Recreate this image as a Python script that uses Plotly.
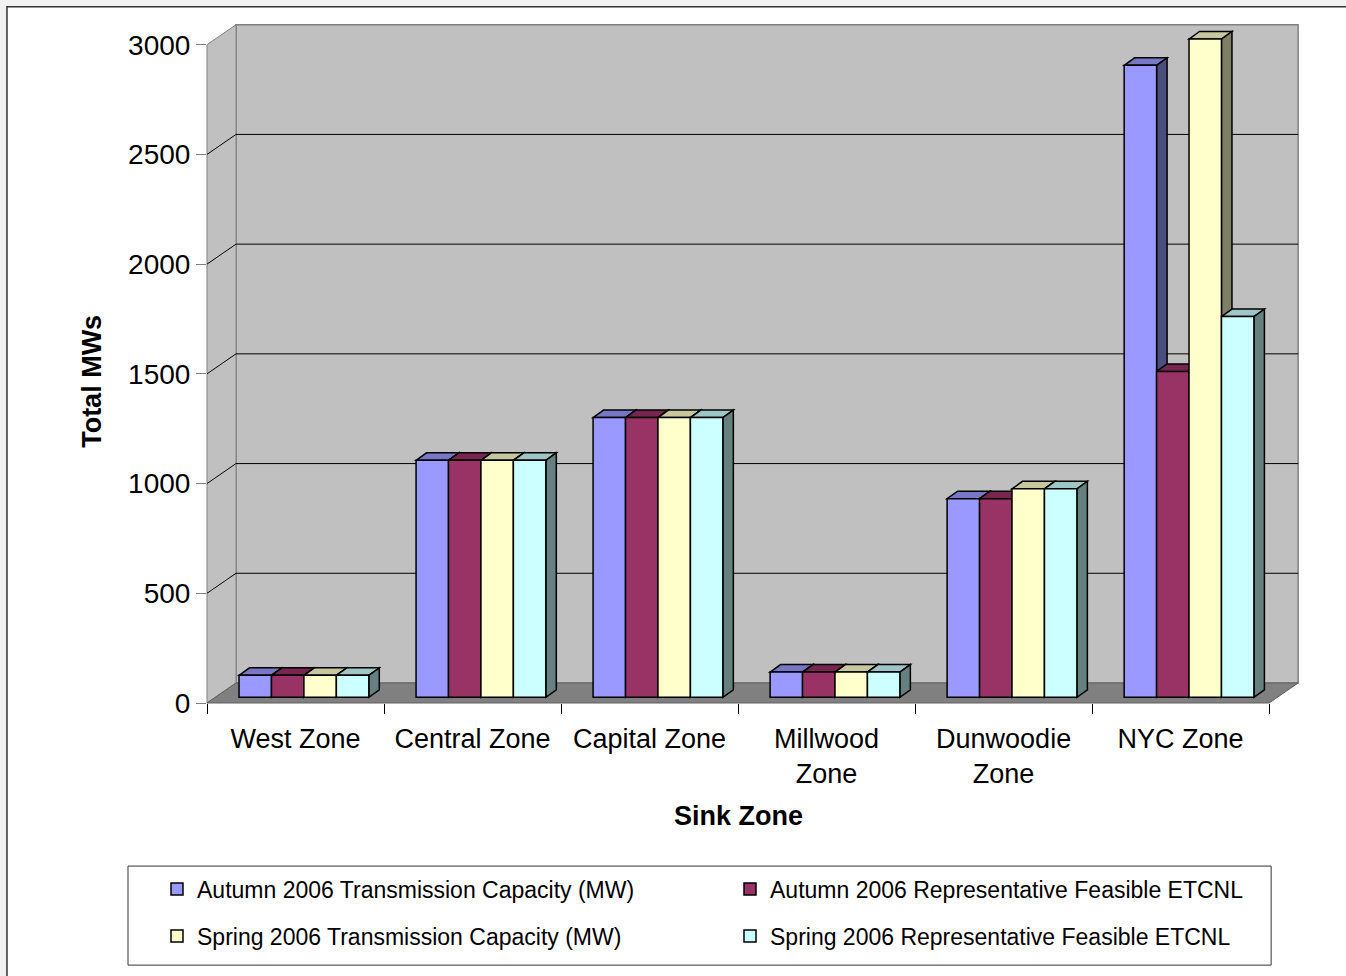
import plotly.graph_objects as go

# ---- data -------------------------------------------------------------
zones = ["West Zone", "Central Zone", "Capital Zone",
         "Millwood<br>Zone", "Dunwoodie<br>Zone", "NYC Zone"]
autumn_tc = [100, 1080, 1275, 115, 905, 2880]
autumn_etcnl = [100, 1080, 1275, 115, 905, 1485]
spring_tc = [100, 1080, 1275, 115, 950, 3000]
spring_etcnl = [100, 1080, 1275, 115, 950, 1735]
series_names = ["Autumn 2006 Transmission Capacity (MW)",
                "Autumn 2006 Representative Feasible ETCNL",
                "Spring 2006 Transmission Capacity (MW)",
                "Spring 2006 Representative Feasible ETCNL"]
series_values = [autumn_tc, autumn_etcnl, spring_tc, spring_etcnl]
series_colors = ["#9999FF", "#993366", "#FFFFCC", "#CCFFFF"]
y_ticks = [0, 500, 1000, 1500, 2000, 2500, 3000]

# ---- geometry of the pseudo-3D frame -------------------------------------
FIG_W, FIG_H = 1346, 976
FONT = "Liberation Sans, Arial, sans-serif"
CAT_PX = 177.0            # pixels per category on the front plane
MW_PX = 658.0 / 3000.0    # pixels per MW
LEFT_PX, BOTTOM_PX = 207, 703
X_RANGE = (-0.5, 5.68)
Y_RANGE = (0.0, 3140.0)
plot_w = (X_RANGE[1] - X_RANGE[0]) * CAT_PX
plot_h = (Y_RANGE[1] - Y_RANGE[0]) * MW_PX

WALL_DX = 29 / CAT_PX     # depth of the floor / walls
WALL_DY = 20 / MW_PX
BAR_DX = 8.4 / CAT_PX     # bars sit part way into the depth
BAR_DY = 5.7 / MW_PX
FACE_DX = 10.5 / CAT_PX   # depth of each bar
FACE_DY = 7.5 / MW_PX
GROUP_W = 0.733
BAR_W = GROUP_W / len(series_values)
N = len(zones)


def xp(v):
    return (v - X_RANGE[0]) / (X_RANGE[1] - X_RANGE[0])


def yp(v):
    return (v - Y_RANGE[0]) / (Y_RANGE[1] - Y_RANGE[0])


def px_x(px):
    return (px - LEFT_PX) / plot_w


def px_y(py):
    return (BOTTOM_PX - py) / plot_h


def shade(hex_color, f):
    h = hex_color.lstrip("#")
    r, g, b = (int(h[i:i + 2], 16) for i in (0, 2, 4))
    return "#%02x%02x%02x" % (int(r * f), int(g * f), int(b * f))


def ppath(points):
    return "M" + " L".join(f"{x},{y}" for x, y in points) + " Z"


shapes = []
# chart area
shapes.append(dict(type="rect", xref="paper", yref="paper", layer="below",
                   x0=px_x(7), x1=px_x(FIG_W + 20), y0=px_y(FIG_H + 20), y1=px_y(7),
                   fillcolor="white", line=dict(color="#333333", width=1.5)))

x_front_l, x_front_r = -0.5, N - 0.5
y_top = y_ticks[-1]
# back wall
shapes.append(dict(type="path", xref="paper", yref="paper", layer="below",
                   path=ppath([(xp(x_front_l + WALL_DX), yp(WALL_DY)),
                               (xp(x_front_l + WALL_DX), yp(y_top + WALL_DY)),
                               (xp(x_front_r + WALL_DX), yp(y_top + WALL_DY)),
                               (xp(x_front_r + WALL_DX), yp(WALL_DY))]),
                   fillcolor="#C0C0C0", line=dict(color="#808080", width=1.5)))
# left wall
shapes.append(dict(type="path", xref="paper", yref="paper", layer="below",
                   path=ppath([(xp(x_front_l), yp(0)),
                               (xp(x_front_l), yp(y_top)),
                               (xp(x_front_l + WALL_DX), yp(y_top + WALL_DY)),
                               (xp(x_front_l + WALL_DX), yp(WALL_DY))]),
                   fillcolor="#C0C0C0", line=dict(color="#808080", width=1)))
# gridlines on the back and left walls
for v in y_ticks[1:-1]:
    shapes.append(dict(type="line", xref="paper", yref="paper", layer="below",
                       x0=xp(x_front_l + WALL_DX), x1=xp(x_front_r + WALL_DX),
                       y0=yp(v + WALL_DY), y1=yp(v + WALL_DY),
                       line=dict(color="black", width=1)))
    shapes.append(dict(type="line", xref="paper", yref="paper", layer="below",
                       x0=xp(x_front_l), x1=xp(x_front_l + WALL_DX),
                       y0=yp(v), y1=yp(v + WALL_DY),
                       line=dict(color="black", width=1)))
# floor
shapes.append(dict(type="path", xref="paper", yref="paper", layer="below",
                   path=ppath([(xp(x_front_l), yp(0)),
                               (xp(x_front_l + WALL_DX), yp(WALL_DY)),
                               (xp(x_front_r + WALL_DX), yp(WALL_DY)),
                               (xp(x_front_r), yp(0))]),
                   fillcolor="#808080", line=dict(color="#606060", width=1)))

# top and side faces of the bars, left to right so nearer faces overlap
for j in range(N):
    for k, (vals, col) in enumerate(zip(series_values, series_colors)):
        top = BAR_DY + vals[j]
        xl = j - GROUP_W / 2 + k * BAR_W + BAR_DX
        xr = xl + BAR_W
        shapes.append(dict(type="path", xref="x", yref="y", layer="below",
                           path=ppath([(xl, top), (xl + FACE_DX, top + FACE_DY),
                                       (xr + FACE_DX, top + FACE_DY), (xr, top)]),
                           fillcolor=shade(col, 0.78),
                           line=dict(color="black", width=1.5)))
        shapes.append(dict(type="path", xref="x", yref="y", layer="below",
                           path=ppath([(xr, BAR_DY), (xr, top),
                                       (xr + FACE_DX, top + FACE_DY),
                                       (xr + FACE_DX, BAR_DY + FACE_DY)]),
                           fillcolor=shade(col, 0.5),
                           line=dict(color="black", width=1.5)))

# legend frame
shapes.append(dict(type="rect", xref="paper", yref="paper", layer="below",
                   x0=px_x(128), x1=px_x(1271), y0=px_y(965), y1=px_y(866),
                   fillcolor="white", line=dict(color="#333333", width=1)))

fig = go.Figure()
for k, (name, vals, col) in enumerate(zip(series_names, series_values, series_colors)):
    # front faces; base lifts them to the bars' depth plane
    fig.add_trace(go.Bar(
        x=list(range(N)), y=vals, base=BAR_DY, name=name,
        width=BAR_W, offset=-GROUP_W / 2 + k * BAR_W + BAR_DX,
        marker=dict(color=col, line=dict(color="black", width=1.5)),
        legend="legend" if k < 2 else "legend2",
        hovertemplate="%{x}: %{y}<extra>" + name + "</extra>",
    ))

legend_common = dict(orientation="h", xanchor="left", yanchor="middle",
                     bgcolor="rgba(0,0,0,0)", borderwidth=0,
                     entrywidth=528, entrywidthmode="pixels",
                     font=dict(family=FONT, size=23, color="black"))

fig.update_layout(
    width=FIG_W, height=FIG_H,
    margin=dict(l=LEFT_PX, r=FIG_W - LEFT_PX - plot_w,
                t=BOTTOM_PX - plot_h, b=FIG_H - BOTTOM_PX, pad=0),
    paper_bgcolor="#f2f2f2", plot_bgcolor="rgba(0,0,0,0)",
    barmode="overlay",
    font=dict(family=FONT, color="black"),
    shapes=shapes,
    xaxis=dict(range=list(X_RANGE), tickmode="array", tickvals=list(range(N)),
               ticktext=zones, ticks="", showgrid=False, zeroline=False,
               showline=False, ticklabelstandoff=17,
               tickfont=dict(family=FONT, size=27, color="black"),
               minor=dict(tickmode="array", tickvals=[i - 0.5 for i in range(N + 1)],
                          ticks="outside", ticklen=10, tickcolor="black", tickwidth=1),
               fixedrange=True),
    yaxis=dict(range=list(Y_RANGE), tickmode="array", tickvals=y_ticks,
               ticks="outside", ticklen=10, tickcolor="#808080", tickwidth=1,
               showgrid=False, zeroline=False, showline=False,
               tickfont=dict(family=FONT, size=28, color="black"), fixedrange=True),
    legend=dict(x=px_x(157), y=px_y(889), **legend_common),
    legend2=dict(x=px_x(157), y=px_y(936), **legend_common),
    annotations=[
        dict(text="Total MWs", xref="paper", yref="paper", x=px_x(92), y=px_y(381),
             textangle=-90, showarrow=False, xanchor="center", yanchor="middle",
             font=dict(family=FONT, size=27, color="black", weight="bold")),
        dict(text="Sink Zone", xref="x", yref="paper", x=(N - 1) / 2, y=px_y(816),
             showarrow=False, xanchor="center", yanchor="middle",
             font=dict(family=FONT, size=27, color="black", weight="bold")),
    ],
)

fig.write_html("out.html")
